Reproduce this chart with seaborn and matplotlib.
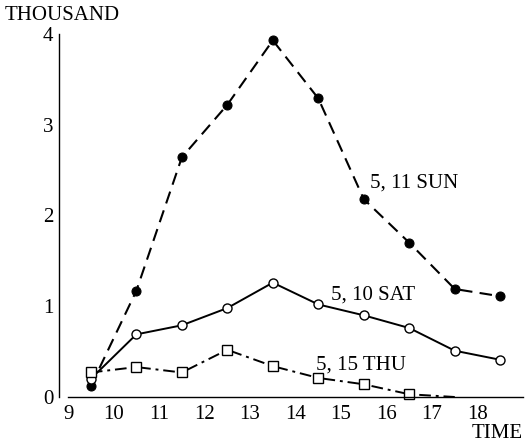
import matplotlib
matplotlib.use("Agg")
import matplotlib.pyplot as plt
import seaborn as sns
import pandas as pd

sns.set_theme(style="white")
plt.rcParams['font.family'] = ['Liberation Serif', 'DejaVu Serif']

# Data
hours = [9.5, 10.5, 11.5, 12.5, 13.5, 14.5, 15.5, 16.5, 17.5, 18.5]
sun = [0.12, 1.17, 2.64, 3.22, 3.93, 3.29, 2.18, 1.70, 1.19, 1.11]
sat = [0.20, 0.69, 0.79, 0.98, 1.26, 1.02, 0.90, 0.76, 0.51, 0.41]
thu_hours = [9.5, 10.5, 11.5, 12.5, 13.5, 14.5, 15.5, 16.5, 17.5]
thu = [0.27, 0.33, 0.27, 0.52, 0.34, 0.21, 0.14, 0.03, 0.0]
x_ticks = [9, 10, 11, 12, 13, 14, 15, 16, 17, 18]
y_ticks = [0, 1, 2, 3, 4]
labels = ["5, 11 SUN", "5, 10 SAT", "5, 15 THU"]

W, H = 532, 446
fig = plt.figure(figsize=(W / 100, H / 100), dpi=100)
ax = fig.add_axes([59 / W, (H - 397) / H, (523 - 59) / W, (397 - 34) / H])

df_sun = pd.DataFrame({"t": hours, "v": sun})
df_sat = pd.DataFrame({"t": hours, "v": sat})
df_thu = pd.DataFrame({"t": thu_hours, "v": thu})

sns.lineplot(data=df_sun, x="t", y="v", ax=ax, color="black", lw=1.5,
             marker="o", markersize=6.5, markerfacecolor="black",
             markeredgecolor="black", dashes=False, clip_on=False)
ax.lines[-1].set_dashes([6, 3.5])
sns.lineplot(data=df_sat, x="t", y="v", ax=ax, color="black", lw=1.4,
             marker="o", markersize=6.5, markerfacecolor="white",
             markeredgecolor="black", markeredgewidth=1.0, clip_on=False)
sns.lineplot(data=df_thu, x="t", y="v", ax=ax, color="black", lw=1.4,
             marker="s", markersize=7, markerfacecolor="white",
             markeredgecolor="black", markeredgewidth=1.0, clip_on=False,
             markevery=list(range(len(thu_hours) - 1)))
ax.lines[-1].set_dashes([6, 2.5, 1.5, 2.5])

ax.set_xlim(8.8, 19.0)
ax.set_ylim(0, 4)
ax.set_xticks(x_ticks)
ax.set_yticks(y_ticks)
ax.set_xlabel("")
ax.set_ylabel("")
ax.tick_params(axis="both", direction="in", length=5, width=1, colors="black",
               labelsize=15, pad=4)
ax.tick_params(axis="x", pad=6)
for s in ["top", "right"]:
    ax.spines[s].set_visible(False)
for s in ["left", "bottom"]:
    ax.spines[s].set_color("black")
    ax.spines[s].set_linewidth(1.0)
ax.spines["bottom"].set_bounds(9, 19)
ax.spines["left"].set_bounds(0, 4)

ax.text(15.63, 2.36, labels[0], fontsize=15, color="black", va="center")
ax.text(14.78, 1.12, labels[1], fontsize=15, color="black", va="center")
ax.text(14.45, 0.35, labels[2], fontsize=15, color="black", va="center")

fig.text(5 / W, 1 - 16 / H, "THOUSAND", fontsize=15, color="black", va="center", ha="left")
fig.text(523 / W, 1 - 434 / H, "TIME", fontsize=15, color="black", va="center", ha="right")

fig.savefig("out.png", dpi=100)
